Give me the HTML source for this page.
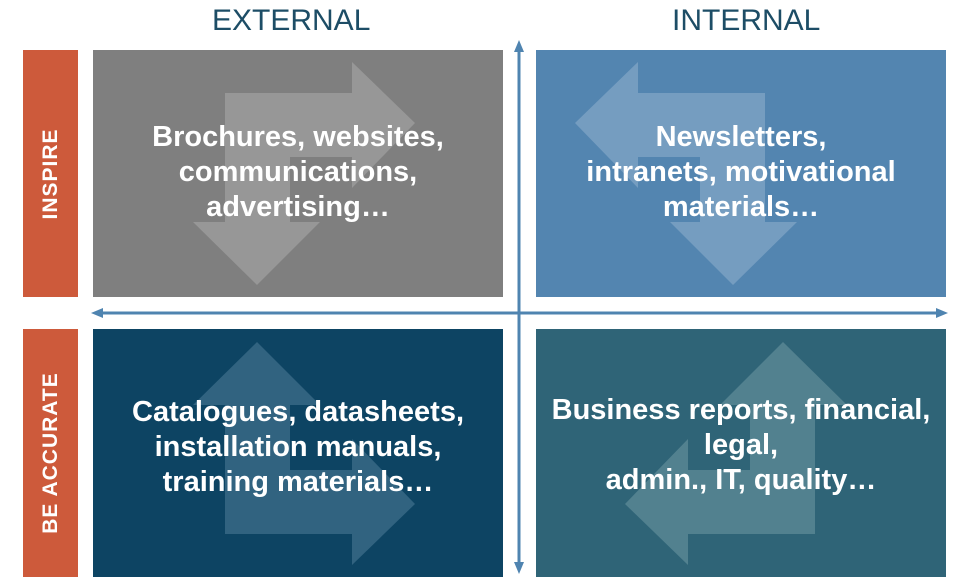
<!DOCTYPE html>
<html><head><style>
body{margin:0;width:960px;height:588px;background:#fff;position:relative;overflow:hidden;font-family:"Liberation Sans",sans-serif}
.h{position:absolute;top:4px;font-size:30px;color:#1d4d66;letter-spacing:0px}
.red{position:absolute;left:23px;width:55px;background:#cd5a3b}
.red span{position:absolute;left:50%;top:50%;transform:translate(-50%,-50%) rotate(-90deg);color:#fff;font-weight:bold;font-size:21px;white-space:nowrap;letter-spacing:1px}
.box{position:absolute;width:410px;height:247px}
.t{position:absolute;left:-10px;right:-10px;text-align:center;color:#fff;font-weight:bold;font-size:29px;line-height:35px}
svg{position:absolute;left:0;top:0}
</style></head><body>
<div class="h" style="left:212px">EXTERNAL</div>
<div class="h" style="left:672px">INTERNAL</div>
<div class="red" style="top:50px;height:247px"><span>INSPIRE</span></div>
<div class="red" style="top:329px;height:248px"><span>BE ACCURATE</span></div>
<div class="box" style="left:93px;top:50px;background:#7f7f7f"></div>
<div class="box" style="left:536px;top:50px;background:#5385b0"></div>
<div class="box" style="left:93px;top:329px;height:248px;background:#0d4463"></div>
<div class="box" style="left:536px;top:329px;height:248px;background:#2f6477"></div>
<svg width="960" height="588">
<defs><path id="a" d="M225,93 L352,93 L352,62 L415,123 L352,188 L352,157 L290,157 L290,222 L320,222 L257,285 L193,222 L225,222 Z"/></defs>
<use href="#a" fill="#a6a6a6" opacity="0.6"/>
<use href="#a" fill="#9fbbd4" opacity="0.45" transform="translate(990,0) scale(-1,1)"/>
<use href="#a" fill="#5d8aa3" opacity="0.45" transform="translate(0,627) scale(1,-1)"/>
<use href="#a" fill="#7fa3ad" opacity="0.45" transform="translate(1040,627) scale(-1,-1)"/>
<g stroke="#4f84b0" stroke-width="3" fill="#4f84b0">
<line x1="519" y1="50" x2="519" y2="566"/>
<line x1="100" y1="313" x2="940" y2="313"/>
</g>
<g fill="#4f84b0">
<polygon points="519,40 514,52 524,52"/><polygon points="519,574 514,562 524,562"/>
<polygon points="91,313 103,308 103,318"/><polygon points="948,313 936,308 936,318"/>
</g>
</svg>
<div class="box" style="left:93px;top:50px"><div class="t" style="top:70px">Brochures, websites,<br>communications,<br>advertising…</div></div>
<div class="box" style="left:536px;top:50px"><div class="t" style="top:70px">Newsletters,<br>intranets, motivational<br>materials…</div></div>
<div class="box" style="left:93px;top:329px"><div class="t" style="top:66px">Catalogues, datasheets,<br>installation manuals,<br>training materials…</div></div>
<div class="box" style="left:536px;top:329px"><div class="t" style="top:64px">Business reports, financial,<br>legal,<br>admin., IT, quality…</div></div>
</body></html>
